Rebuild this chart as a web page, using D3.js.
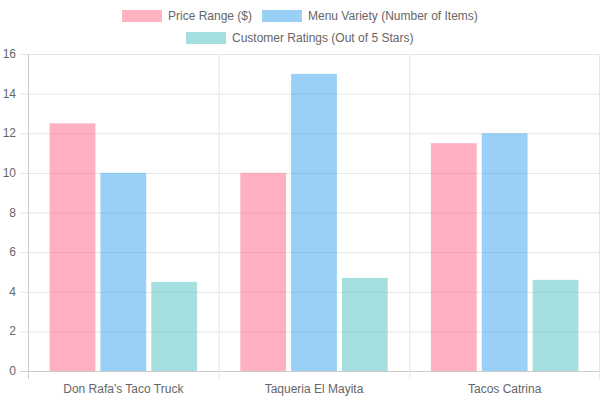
<!DOCTYPE html>
<html><head><script src="https://cdn.jsdelivr.net/npm/d3@7"></script>
<style>body{margin:0;background:#fff}text{font-family:"Liberation Sans",Arial,sans-serif;fill:#666;font-size:12px}</style></head>
<body><svg id="c" width="600" height="400"></svg>
<script>
const categories=["Don Rafa's Taco Truck","Taqueria El Mayita","Tacos Catrina"];
const seriesNames=["Price Range ($)","Menu Variety (Number of Items)","Customer Ratings (Out of 5 Stars)"];
const priceRange=[12.5,10,11.5];
const menuVariety=[10,15,12];
const ratings=[4.5,4.7,4.6];
const yTicks=[0,2,4,6,8,10,12,14,16];
const fills=["rgba(255,99,132,0.5)","rgba(54,162,235,0.5)","rgba(75,192,192,0.5)"];
const series=[priceRange,menuVariety,ratings];
const svg=d3.select("#c");
const L=28,R=600,T=54,B=371;
const x=d3.scaleBand().domain(categories).range([L,R]);
const x1=d3.scaleBand().domain(d3.range(3)).range([0,x.bandwidth()*0.8]);
const y=d3.scaleLinear().domain([0,16]).range([B,T]);
// grid
yTicks.forEach(t=>{svg.append("line").attr("x1",L-8).attr("x2",R).attr("y1",y(t)+.5).attr("y2",y(t)+.5).attr("stroke",t==0?"#ccc":"#e5e5e5");
 svg.append("text").attr("x",16).attr("y",y(t)+4).attr("text-anchor","end").text(t);});
categories.forEach((c,i)=>{const xx=x(c)+x.bandwidth();if(i<2)svg.append("line").attr("x1",xx+.5).attr("x2",xx+.5).attr("y1",T).attr("y2",B+8).attr("stroke","#e5e5e5");});
svg.append("line").attr("x1",L+.5).attr("x2",L+.5).attr("y1",T).attr("y2",B+8).attr("stroke","#ccc");
svg.append("line").attr("x1",R-.5).attr("x2",R-.5).attr("y1",T).attr("y2",B+8).attr("stroke","#e5e5e5");
categories.forEach((c,ci)=>{svg.append("text").attr("x",x(c)+x.bandwidth()/2).attr("y",393).attr("text-anchor","middle").text(c);});
series.forEach((s,si)=>{svg.selectAll(null).data(s).enter().append("rect")
 .attr("x",(d,i)=>x(categories[i])+x.bandwidth()*0.1+x1(si)+x1.bandwidth()*0.05)
 .attr("width",x1.bandwidth()*0.9).attr("y",d=>y(d)).attr("height",d=>B-y(d))
 .attr("fill",fills[si]);});
// legend
const leg=[[122,16,0],[262,16,1],[186,38,2]];
leg.forEach(([lx,ly,i])=>{svg.append("rect").attr("x",lx).attr("y",ly-6).attr("width",40).attr("height",12).attr("fill",fills[i]);
 svg.append("text").attr("x",lx+46).attr("y",ly+4).text(seriesNames[i]);});
</script></body></html>
